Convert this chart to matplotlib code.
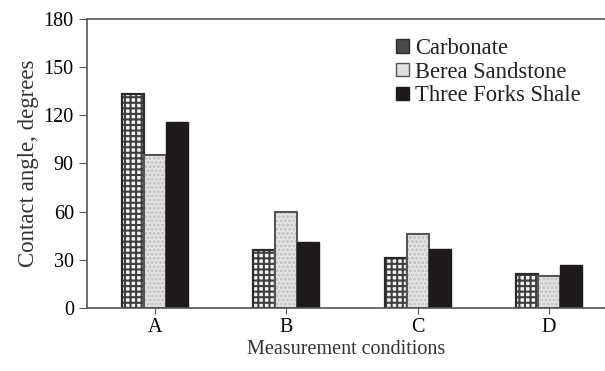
import numpy as np
import matplotlib
matplotlib.use("Agg")
import matplotlib.pyplot as plt

# values
conditions = ["A", "B", "C", "D"]
carbonate = [133, 36, 31, 21]
berea = [95, 60, 46, 20]
shale = [116, 41, 37, 27]

plt.rcParams["font.family"] = ["Liberation Serif", "DejaVu Serif"]
plt.rcParams["hatch.linewidth"] = 1.5

fig = plt.figure(figsize=(6.05, 3.71), dpi=100)
ax = fig.add_axes([0.1438, 0.1698, 0.8562, 0.779])

x = np.arange(len(conditions))
w = 0.168

# carbonate: brick-like pattern, dark gray mortar lines on white
ax.bar(x - w, carbonate, w, color="#f4f4f4", hatch="+++", edgecolor="#404040", linewidth=0)
ax.bar(x - w, carbonate, w, fill=False, edgecolor="#2a2a2a", linewidth=1.6)
# berea sandstone: light gray dotted
ax.bar(x, berea, w, color="#e6e6e6", hatch="....", edgecolor="#c0c0c0", linewidth=0)
ax.bar(x, berea, w, fill=False, edgecolor="#555555", linewidth=1.5)
# three forks shale: solid black
ax.bar(x + w, shale, w, color="#1e1a1c", edgecolor="#1e1a1c", linewidth=1.0)

# legend proxies
h1 = plt.Rectangle((0, 0), 1, 1, facecolor="#4a4a4a", edgecolor="#2a2a2a")
h2 = plt.Rectangle((0, 0), 1, 1, facecolor="#e0e0e0", edgecolor="#555555")
h3 = plt.Rectangle((0, 0), 1, 1, facecolor="#1e1a1c", edgecolor="#1e1a1c")
leg = ax.legend([h1, h2, h3], ["Carbonate", "Berea Sandstone", "Three Forks Shale"],
                loc="upper right", frameon=False, prop={"size": 16.3}, handlelength=0.55,
                handleheight=0.55, handletextpad=0.3, labelspacing=0.12,
                bbox_to_anchor=(0.993, 1.005))
for t in leg.get_texts():
    t.set_color("#222222")

ax.set_xlim(-0.518, 3.426)
ax.set_ylim(0, 180)
ax.set_yticks(range(0, 181, 30))
ax.set_xticks(x)
ax.set_xticklabels(conditions)
ax.tick_params(axis="both", labelsize=14.5, color="#555555", direction="out")
ax.tick_params(axis="x", length=4)
ax.tick_params(axis="y", length=6)
for s in ["left", "bottom", "top"]:
    ax.spines[s].set_color("#555555")
    ax.spines[s].set_linewidth(1.2)
ax.spines["right"].set_visible(False)

ax.set_xlabel("Measurement conditions", fontsize=14.5, color="#333333", labelpad=2)
ax.set_ylabel("Contact angle, degrees", fontsize=16.5, color="#333333", labelpad=3)

fig.savefig("out.png", dpi=100)
